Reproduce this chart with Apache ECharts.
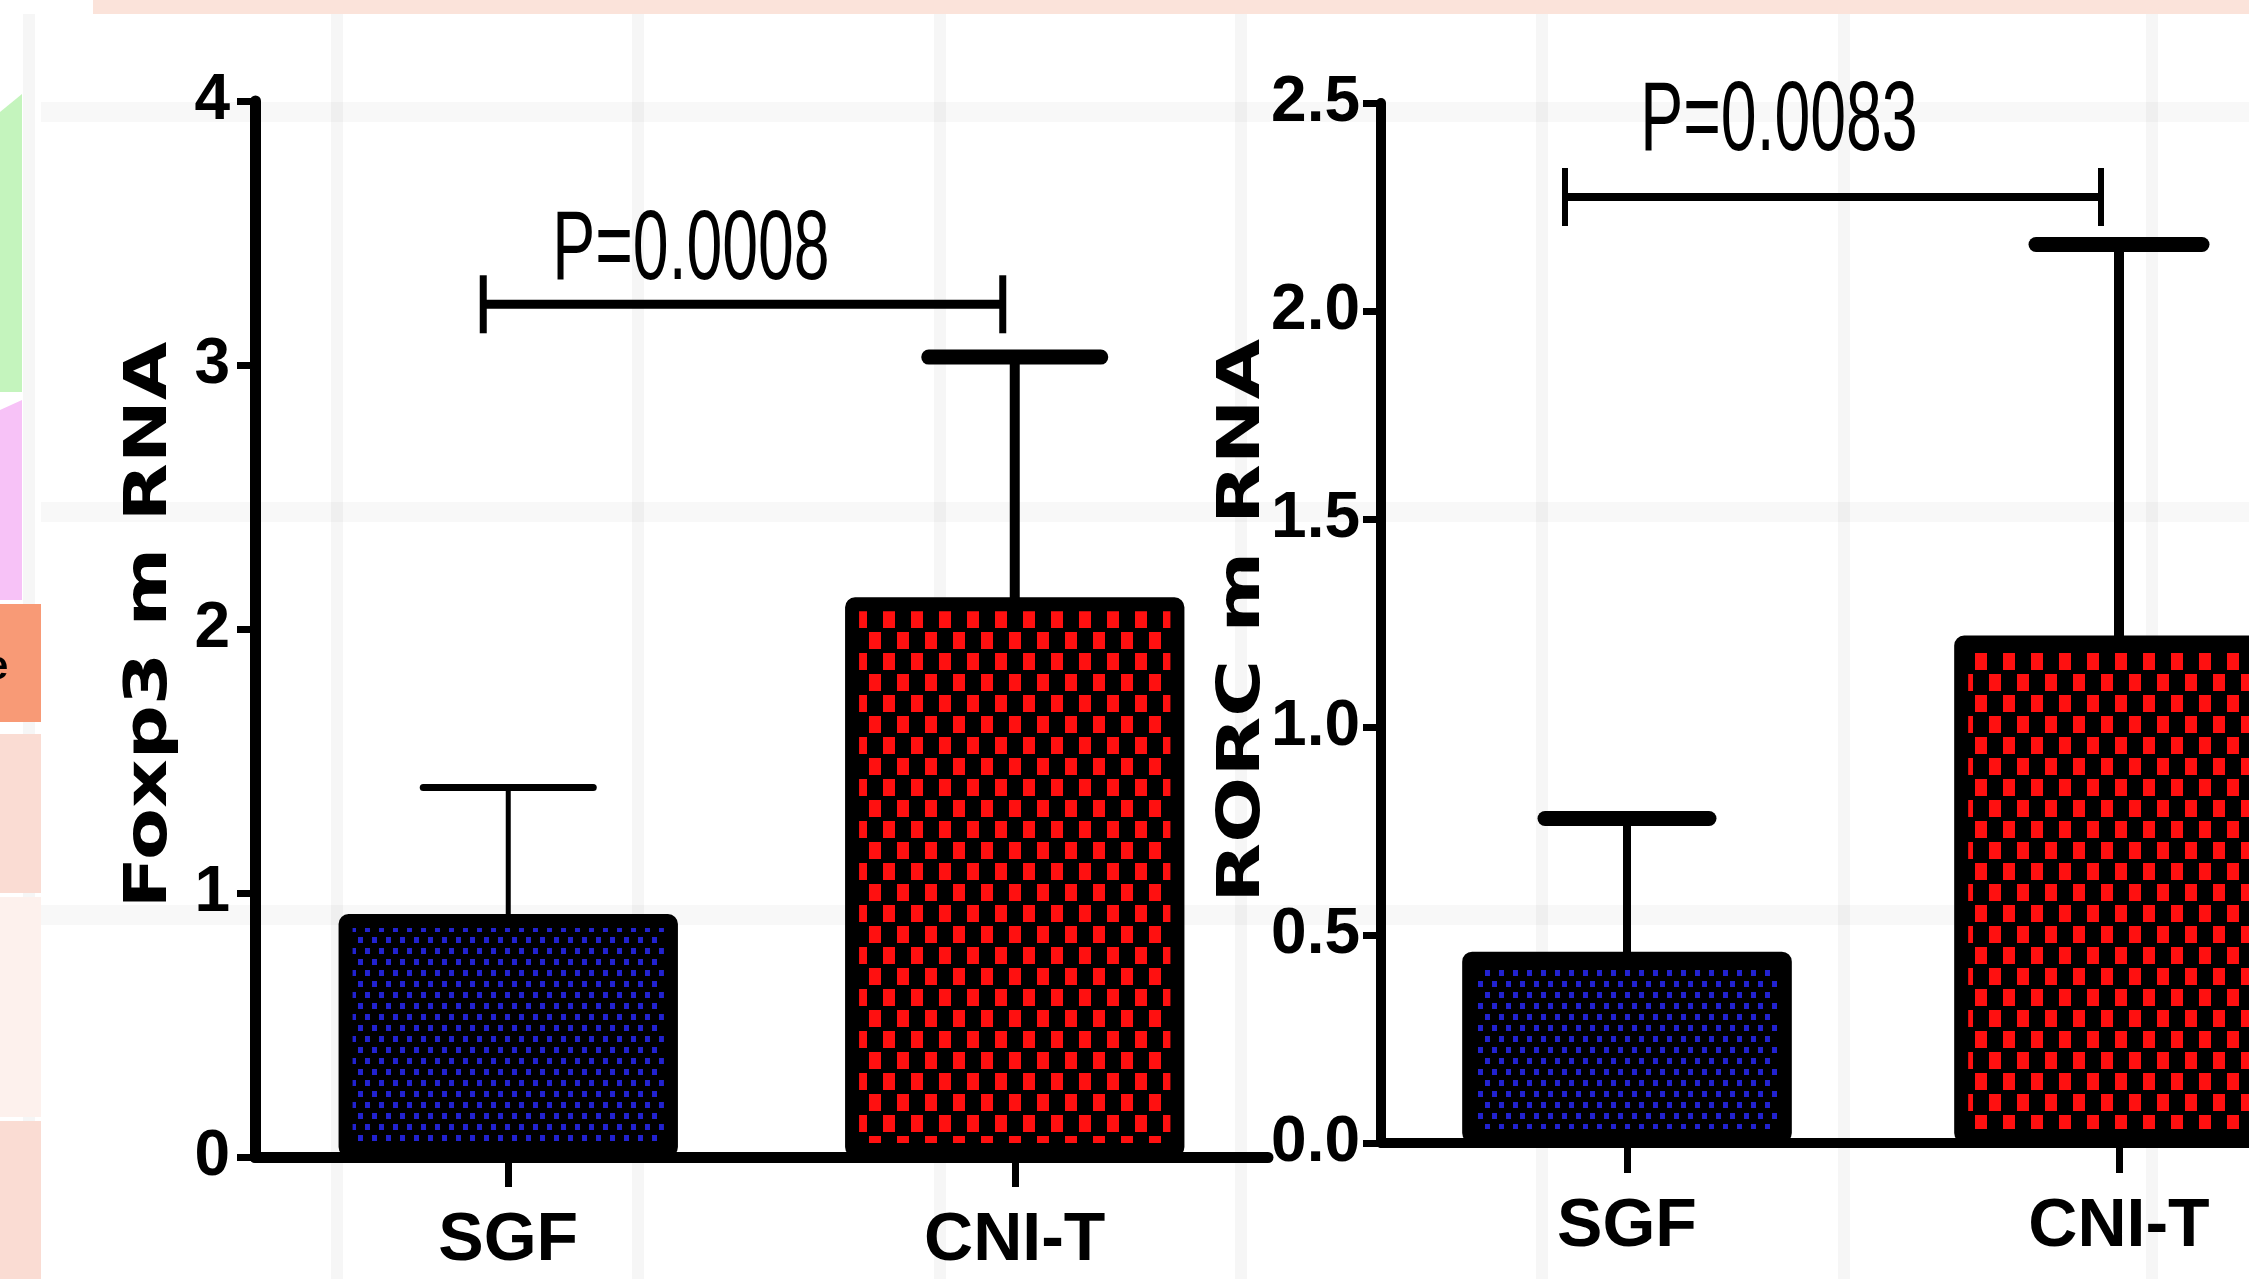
<!DOCTYPE html>
<html><head><meta charset="utf-8">
<script src="https://cdn.jsdelivr.net/npm/echarts@6/dist/echarts.min.js"></script>
<style>html,body{margin:0;padding:0;background:#fff;overflow:hidden;width:2249px;height:1279px}#c{width:2420px;height:1279px;}</style>
</head><body><div id="c"></div>
<script>
// ---------------- data ----------------
const categories = ['SGF', 'CNI-T'];
const foxp3Mean  = [0.92, 2.12];
const foxp3Upper = [1.40, 3.03];
const rorcMean   = [0.46, 1.22];
const rorcUpper  = [0.78, 2.16];
const foxp3Ticks = ['0', '1', '2', '3', '4'];
const rorcTicks  = ['0.0', '0.5', '1.0', '1.5', '2.0', '2.5'];
const foxp3Title = 'Foxp3 m RNA';
const rorcTitle  = 'RORC m RNA';
const foxp3PText = ['P=0.0008'];
const rorcPText  = ['P=0.0083'];
const foxp3BracketY = [3.23];
const rorcBracketY  = [2.274];

// ---------------- styles ----------------
function makeTile(w, h, fg, rects) {
  const c = document.createElement('canvas');
  c.width = w; c.height = h;
  const g = c.getContext('2d');
  g.fillStyle = '#000'; g.fillRect(0, 0, w, h);
  g.fillStyle = fg;
  rects.forEach(r => g.fillRect(r[0], r[1], r[2], r[3]));
  return c;
}
const blueTile = makeTile(14, 22, '#2222d0', [[1, 2, 5, 6], [8, 13, 5, 6]]);
const redTile  = makeTile(28, 42, '#ff1010', [[1, 2, 12, 17], [15, 23, 12, 17]]);
const fills = [{ image: blueTile, repeat: 'repeat' }, { image: redTile, repeat: 'repeat' }];

const tickFont = '"Liberation Sans Narrow", "Liberation Sans", Arial, sans-serif';

const leftErr  = [{ lw: 5, cw: 7, half: 85 }, { lw: 10, cw: 15, half: 86 }];
const rightErr = [{ lw: 8, cw: 15, half: 82 }, { lw: 10, cw: 15, half: 83 }];
const leftBr  = { dl: -25, dr: -12, lw: 9, tw: 7, tk: 29, tx: -52, ty: 3 };
const rightBr = { dl: -62, dr: -18, lw: 8, tw: 6, tk: 29, tx: -54, ty: 25 };

function errorRender(styles) {
  return function (params, api) {
    const s = styles[params.dataIndex];
    const x = api.value(0);
    const base = api.coord([x, api.value(1)]);
    const top = api.coord([x, api.value(2)]);
    return {
      type: 'group', children: [
        { type: 'line', shape: { x1: base[0], y1: base[1] + 4, x2: top[0], y2: top[1] }, style: { stroke: '#000', lineWidth: s.lw } },
        { type: 'line', shape: { x1: top[0] - s.half, y1: top[1], x2: top[0] + s.half, y2: top[1] }, style: { stroke: '#000', lineWidth: s.cw, lineCap: 'round' } }
      ]
    };
  };
}
function bracketRender(cfg, texts) {
  return function (params, api) {
    const y = api.value(1);
    const a = api.coord([0, y]);
    const b = api.coord([1, y]);
    const x1 = a[0] + cfg.dl, x2 = b[0] + cfg.dr, yy = a[1];
    return {
      type: 'group', children: [
        { type: 'line', shape: { x1: x1, y1: yy, x2: x2, y2: yy }, style: { stroke: '#000', lineWidth: cfg.lw } },
        { type: 'line', shape: { x1: x1, y1: yy - cfg.tk, x2: x1, y2: yy + cfg.tk }, style: { stroke: '#000', lineWidth: cfg.tw } },
        { type: 'line', shape: { x1: x2, y1: yy - cfg.tk, x2: x2, y2: yy + cfg.tk }, style: { stroke: '#000', lineWidth: cfg.tw } },
        { type: 'text', x: (x1 + x2) / 2 + cfg.tx, y: yy - cfg.ty, scaleX: 0.65,
          style: { text: texts[params.dataIndex], fontSize: 99, fontFamily: '"Liberation Sans", Arial, sans-serif', fill: '#000', align: 'center', verticalAlign: 'bottom' } }
      ]
    };
  };
}

function xAxisCfg(gi, lw) {
  return {
    type: 'category', gridIndex: gi, data: categories,
    axisLine: { lineStyle: { color: '#000', width: lw } },
    axisTick: { show: true, alignWithLabel: true, length: 30, lineStyle: { color: '#000', width: 7 } },
    axisLabel: { margin: 50, fontSize: 68, fontWeight: 'bold', fontFamily: tickFont, color: '#000' },
    splitLine: { show: false }
  };
}
function yAxisCfg(gi, max, interval, labels, margin, lw) {
  return {
    type: 'value', gridIndex: gi, min: 0, max: max, interval: interval,
    axisLine: { show: true, lineStyle: { color: '#000', width: lw } },
    axisTick: { show: true, length: 18, lineStyle: { color: '#000', width: 7 } },
    axisLabel: { margin: margin, fontSize: 64, fontWeight: 'bold', fontFamily: tickFont, color: '#000',
      formatter: v => labels[Math.round(v / interval)] },
    splitLine: { show: false }
  };
}

// --------- decorative slide background ---------
const deco = [];
[29, 337, 638, 940, 1241, 1542, 1844, 2152].forEach(x => deco.push({ type: 'rect', z: -5, shape: { x: x - 6, y: 14, width: 12, height: 1265 }, style: { fill: 'rgba(0,0,0,0.035)' } }));
[112, 512, 915].forEach(y => deco.push({ type: 'rect', z: -5, shape: { x: 41, y: y - 10, width: 2208, height: 20 }, style: { fill: 'rgba(0,0,0,0.028)' } }));
deco.push({ type: 'rect', z: -4, shape: { x: 93, y: 0, width: 2156, height: 14 }, style: { fill: '#fbe3da' } });
deco.push({ type: 'polygon', z: -4, shape: { points: [[0, 112], [22, 94], [22, 392], [0, 392]] }, style: { fill: '#c4f4bd' } });
deco.push({ type: 'polygon', z: -4, shape: { points: [[0, 410], [22, 400], [22, 600], [0, 600]] }, style: { fill: '#f7c2f7' } });
deco.push({ type: 'rect', z: -4, shape: { x: 0, y: 604, width: 41, height: 118 }, style: { fill: '#f89a76' } });
deco.push({ type: 'rect', z: -4, shape: { x: 0, y: 734, width: 41, height: 159 }, style: { fill: '#fadcd3' } });
deco.push({ type: 'rect', z: -4, shape: { x: 0, y: 897, width: 41, height: 220 }, style: { fill: '#fdf1ed' } });
deco.push({ type: 'rect', z: -4, shape: { x: 0, y: 1121, width: 41, height: 158 }, style: { fill: '#fadcd3' } });
deco.push({ type: 'text', z: -3, x: -14, y: 668, style: { text: 'e', fontSize: 40, fontWeight: 'bold', fontFamily: '"Liberation Sans"', fill: '#000', verticalAlign: 'middle' } });

// --------- axis titles (stretched like the original) ---------
deco.push({ type: 'text', z: 10, x: 151, y: 625, rotation: Math.PI / 2, scaleX: 1.28,
  style: { text: foxp3Title, fontSize: 59, fontWeight: 'bold', fontFamily: '"DejaVu Sans", sans-serif', fill: '#000', align: 'center', verticalAlign: 'middle' } });
deco.push({ type: 'text', z: 10, x: 1244, y: 621, rotation: Math.PI / 2, scaleX: 1.32,
  style: { text: rorcTitle, fontSize: 59, fontWeight: 'bold', fontFamily: '"DejaVu Sans", sans-serif', fill: '#000', align: 'center', verticalAlign: 'middle' } });

const chart = echarts.init(document.getElementById('c'), null, { renderer: 'canvas', width: 2420, height: 1279 });
chart.setOption({
  backgroundColor: '#ffffff',
  animation: false,
  graphic: { elements: deco },
  grid: [
    { left: 255, top: 101, width: 1013, height: 1056 },
    { left: 1381, top: 103, width: 984, height: 1040 }
  ],
  xAxis: [xAxisCfg(0, 11), xAxisCfg(1, 10)],
  yAxis: [yAxisCfg(0, 4, 1, foxp3Ticks, 25, 11), yAxisCfg(1, 2.5, 0.5, rorcTicks, 21, 10)],
  series: [
    { type: 'bar', xAxisIndex: 0, yAxisIndex: 0, barWidth: '67%', z: 2,
      itemStyle: { borderColor: '#000', borderWidth: 14, borderRadius: 3 },
      data: foxp3Mean.map((v, i) => ({ value: v, itemStyle: { color: fills[i] } })) },
    { type: 'custom', xAxisIndex: 0, yAxisIndex: 0, z: 3, renderItem: errorRender(leftErr),
      data: categories.map((c, i) => [i, foxp3Mean[i], foxp3Upper[i]]) },
    { type: 'custom', xAxisIndex: 0, yAxisIndex: 0, z: 3, renderItem: bracketRender(leftBr, foxp3PText),
      data: foxp3BracketY.map(y => [0, y]) },
    { type: 'bar', xAxisIndex: 1, yAxisIndex: 1, barWidth: '67%', z: 2,
      itemStyle: { borderColor: '#000', borderWidth: 14, borderRadius: 3 },
      data: rorcMean.map((v, i) => ({ value: v, itemStyle: { color: fills[i] } })) },
    { type: 'custom', xAxisIndex: 1, yAxisIndex: 1, z: 3, renderItem: errorRender(rightErr),
      data: categories.map((c, i) => [i, rorcMean[i], rorcUpper[i]]) },
    { type: 'custom', xAxisIndex: 1, yAxisIndex: 1, z: 3, renderItem: bracketRender(rightBr, rorcPText),
      data: rorcBracketY.map(y => [0, y]) }
  ]
});
</script>
</body></html>
